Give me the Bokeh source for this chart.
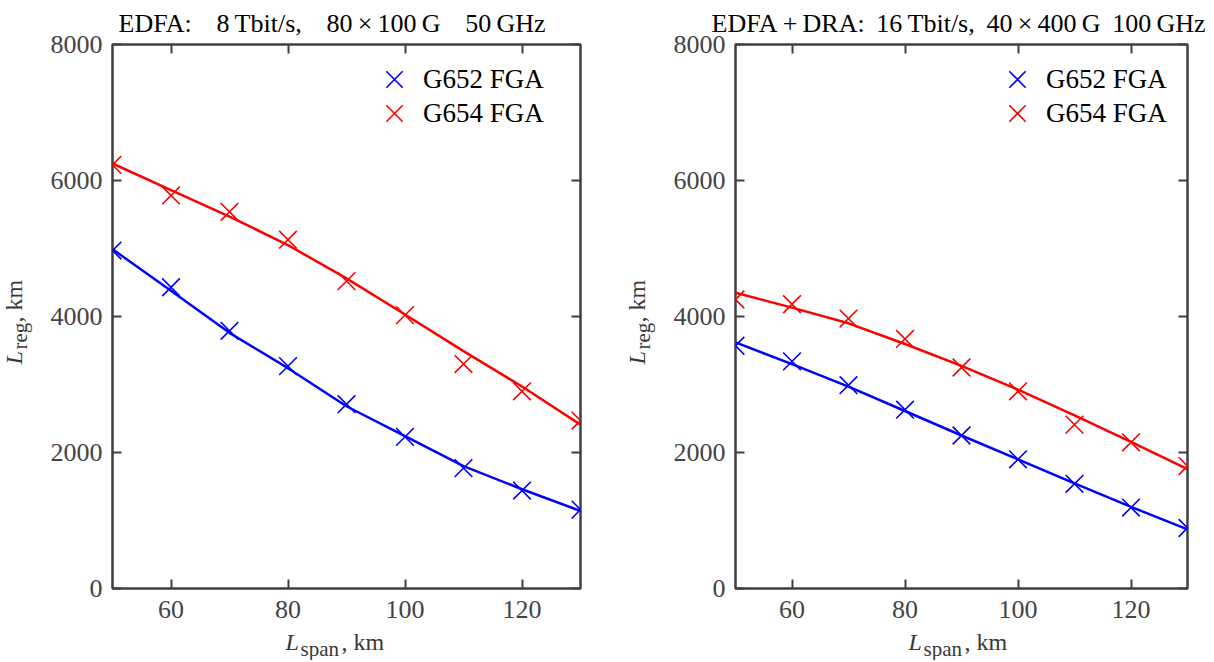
import math
from bokeh.plotting import figure
from bokeh.models import LinearAxis, FixedTicker, Label, Legend, LegendItem, Title
from bokeh.layouts import row, column
from bokeh.embed import file_html
from bokeh.resources import INLINE

# ---------------- data ----------------
span_km = [50, 60, 70, 80, 90, 100, 110, 120, 130]

# EDFA: 8 Tbit/s, 80x100G 50 GHz
edfa_g652_pts = [4970, 4430, 3790, 3270, 2710, 2230, 1770, 1440, 1160]
edfa_g652_fit = [4990, 4380, 3760, 3240, 2680, 2240, 1800, 1460, 1140]
edfa_g654_pts = [6230, 5780, 5540, 5130, 4520, 4020, 3300, 2900, 2470]
edfa_g654_fit = [6250, 5860, 5470, 5050, 4560, 4030, 3490, 2970, 2410]

# EDFA+DRA: 16 Tbit/s, 40x400G 100 GHz
dra_g652_pts = [3570, 3340, 2990, 2630, 2250, 1900, 1540, 1190, 890]
dra_g652_fit = [3620, 3300, 2970, 2610, 2250, 1900, 1545, 1200, 870]
dra_g654_pts = [4250, 4180, 3970, 3670, 3250, 2900, 2410, 2150, 1800]
dra_g654_fit = [4350, 4130, 3900, 3595, 3275, 2925, 2545, 2155, 1755]

x_ticks = [60, 80, 100, 120]
y_ticks = [0, 2000, 4000, 6000, 8000]
series_names = ["G652 FGA", "G654 FGA"]
NB = "\u00a0"
TH = "\u2009"
titles = ["EDFA:" + NB * 3 + TH + "8" + TH + "Tbit/s," + NB * 3 + TH + "80" + TH + "\u00d7" + TH
          + "100" + TH + "G" + NB * 3 + TH + "50" + TH + "GHz",
          "EDFA" + TH + "+" + TH + "DRA:" + NB + TH + "16" + TH + "Tbit/s," + NB + TH + "40" + TH
          + "\u00d7" + TH + "400" + TH + "G" + NB + TH + "100" + TH + "GHz"]

FONT = "Liberation Serif"
AX = "#404040"
BLUE = "#0000ff"
RED = "#ff0000"
LBL = "#383838"


def style_axis(ax, labels=True):
    ax.axis_line_color = None
    ax.major_tick_in = 9
    ax.major_tick_out = 0
    ax.major_tick_line_color = AX
    ax.major_tick_line_width = 2
    ax.minor_tick_line_color = None
    if labels:
        ax.major_label_text_font = FONT
        ax.major_label_text_font_size = "26px"
        ax.major_label_text_color = "#444444"
    else:
        ax.major_label_text_font_size = "0px"
        ax.major_label_text_color = None
        ax.major_label_standoff = 0


def make_panel(title, g652_pts, g652_fit, g654_pts, g654_fit, width, bl, br, title_off):
    p = figure(width=width, height=630, x_range=(50, 130), y_range=(0, 8000),
               output_backend="svg", toolbar_location=None,
               min_border_left=bl, min_border_right=br,
               min_border_top=43, min_border_bottom=42)
    p.title = Title(text=title, align="left", offset=title_off, text_font=FONT,
                    text_font_size="26px", text_font_style="normal", text_color="black",
                    standoff=13)
    p.background_fill_color = "white"
    p.border_fill_color = "white"
    p.outline_line_color = AX
    p.outline_line_width = 2.5
    p.xgrid.visible = False
    p.ygrid.visible = False

    p.xaxis.ticker = FixedTicker(ticks=x_ticks)
    p.yaxis.ticker = FixedTicker(ticks=y_ticks)
    style_axis(p.xaxis[0])
    style_axis(p.yaxis[0])
    p.xaxis.major_label_standoff = 12
    p.yaxis.major_label_standoff = 10

    top = LinearAxis(ticker=FixedTicker(ticks=x_ticks))
    right = LinearAxis(ticker=FixedTicker(ticks=y_ticks))
    style_axis(top, False)
    style_axis(right, False)
    p.add_layout(top, "above")
    p.add_layout(right, "right")

    p.line(span_km, g652_fit, line_color=BLUE, line_width=2.5)
    p.line(span_km, g654_fit, line_color=RED, line_width=2.5)
    r1 = p.scatter(span_km, g652_pts, marker="x", size=25, line_color=BLUE, line_width=1.6)
    r2 = p.scatter(span_km, g654_pts, marker="x", size=25, line_color=RED, line_width=1.6)

    for r, name, yb in [(r1, series_names[0], 480), (r2, series_names[1], 446)]:
        leg = Legend(items=[LegendItem(label=name, renderers=[r])],
                     location=(253, yb), glyph_width=58, glyph_height=58,
                     label_height=30, spacing=0, label_standoff=0, padding=0, margin=0,
                     border_line_color=None, background_fill_alpha=0,
                     label_text_font=FONT, label_text_font_size="27px",
                     label_text_color="black")
        p.add_layout(leg, "center")
    return p


def strip(w, h):
    s = figure(width=w, height=h, x_range=(0, w), y_range=(0, h),
               x_axis_type=None, y_axis_type=None, min_border=0,
               output_backend="svg", toolbar_location=None)
    s.title = None
    s.outline_line_color = None
    s.background_fill_color = "white"
    s.border_fill_color = "white"
    return s


def xlabel_strip(w):
    # x positions in screen units relative to the (frame-aligned) strip frame
    s = strip(w, 30)
    s.add_layout(Label(x=173, y=19, x_units="screen", text="L", text_font=FONT,
                       text_font_style="italic", text_font_size="24px",
                       text_baseline="alphabetic", text_color=LBL))
    s.add_layout(Label(x=188, y=12, x_units="screen", text="span", text_font=FONT,
                       text_font_size="21px", text_baseline="alphabetic", text_color=LBL))
    s.add_layout(Label(x=229, y=19, x_units="screen", text=", km", text_font=FONT,
                       text_font_size="24px", text_baseline="alphabetic", text_color=LBL))
    return s


def ylabel_strip(w, bx):
    s = strip(w, 660)
    a = math.pi / 2
    s.add_layout(Label(x=bx, y=296, angle=a, text="L", text_font=FONT, text_font_style="italic",
                       text_font_size="24px", text_baseline="alphabetic", text_color=LBL))
    s.add_layout(Label(x=bx + 6, y=311, angle=a, text="reg", text_font=FONT,
                       text_font_size="21px", text_baseline="alphabetic", text_color=LBL))
    s.add_layout(Label(x=bx, y=338, angle=a, text=", km", text_font=FONT,
                       text_font_size="24px", text_baseline="alphabetic", text_color=LBL))
    return s


p1 = make_panel(titles[0], edfa_g652_pts, edfa_g652_fit, edfa_g654_pts, edfa_g654_fit,
                568, 72, 28, 6)
p2 = make_panel(titles[1], dra_g652_pts, dra_g652_fit, dra_g654_pts, dra_g654_fit,
                545, 72, 21, -24)

layout = row(ylabel_strip(40, 13), column(p1, xlabel_strip(568)),
             ylabel_strip(55, 28), column(p2, xlabel_strip(545)))
open("out.html", "w").write(file_html(layout, INLINE))
